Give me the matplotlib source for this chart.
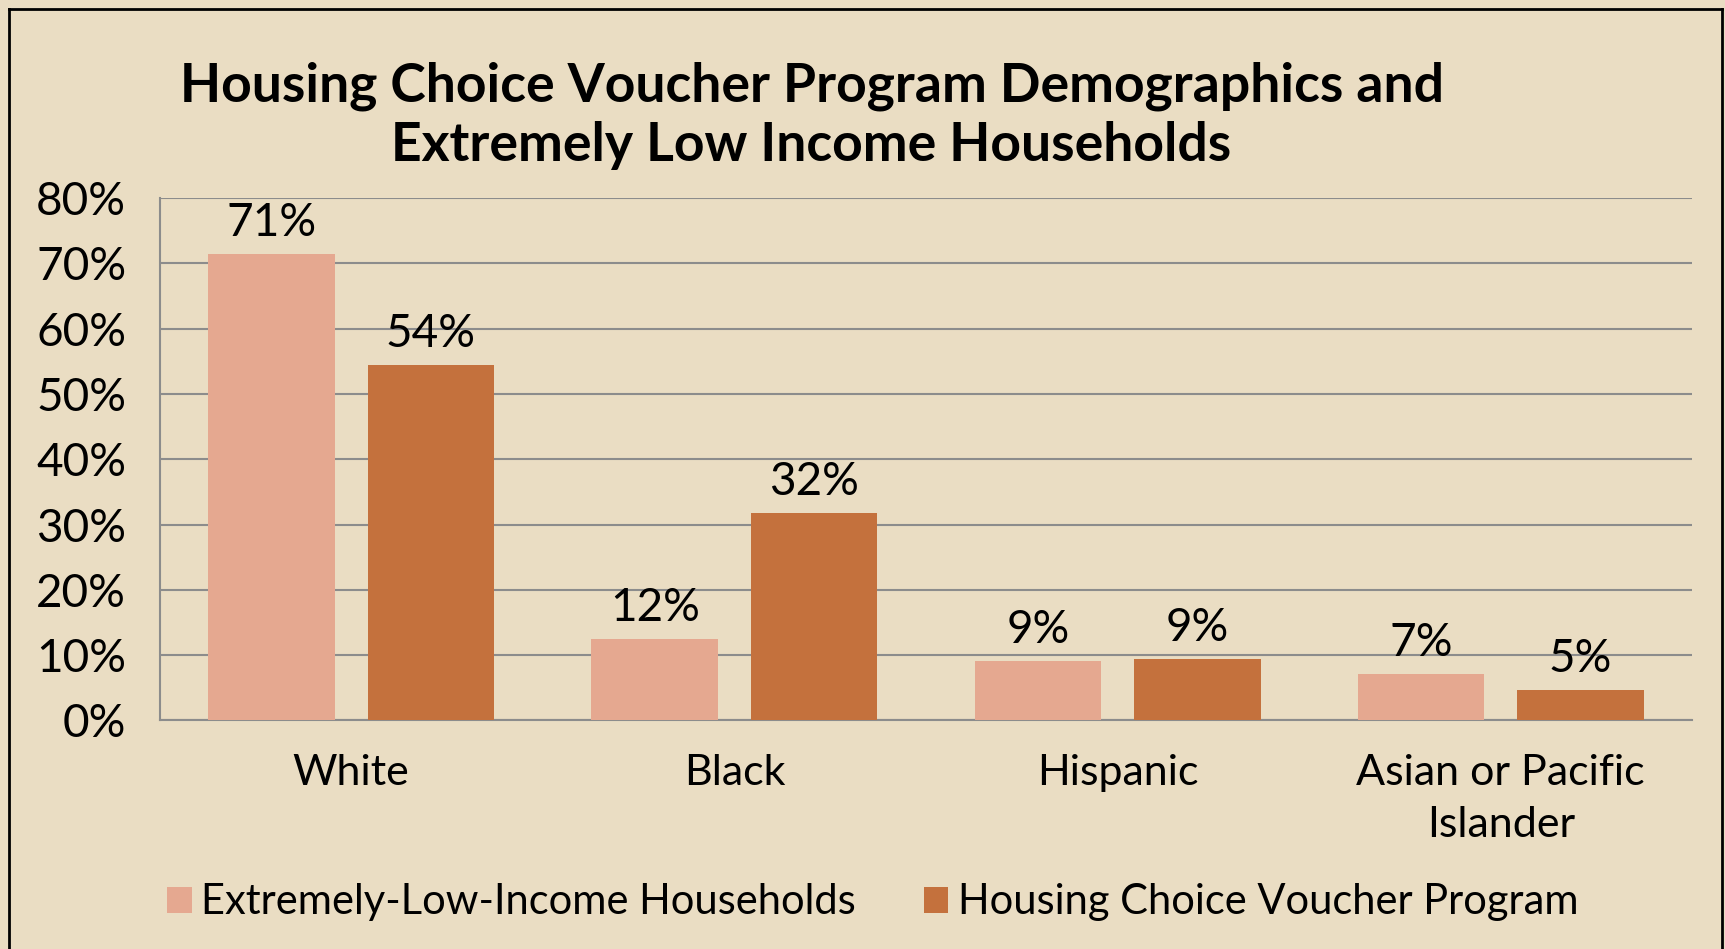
import matplotlib.pyplot as plt
import numpy as np
from matplotlib.lines import Line2D

# Dados do gráfico
categorias = ['White', 'Black', 'Hispanic', 'Asian or Pacific\nIslander']
eli_households = [71.4, 12.5, 9.1, 7.1]
hcv_program = [54.4, 31.8, 9.4, 4.7]
rotulos_eli = ['71%', '12%', '9%', '7%']
rotulos_hcv = ['54%', '32%', '9%', '5%']
serie_nomes = ['Extremely-Low-Income Households', 'Housing Choice Voucher Program']
y_ticks = [0, 10, 20, 30, 40, 50, 60, 70, 80]

fundo = '#EADDC3'
cor_clara = '#E5A890'
cor_escura = '#C4713D'
cor_grade = '#8C8C8C'

plt.rcParams['font.family'] = ['Lato', 'DejaVu Sans']

fig = plt.figure(figsize=(17.25, 9.49), dpi=100, facecolor=fundo)
ax = fig.add_axes([0.0925, 0.2408, 0.8886, 0.5506])
ax.set_facecolor(fundo)

x = np.arange(len(categorias))
largura = 0.33
desloc = 0.208
b1 = ax.bar(x - desloc, eli_households, largura, color=cor_clara, label=serie_nomes[0], zorder=3)
b2 = ax.bar(x + desloc, hcv_program, largura, color=cor_escura, label=serie_nomes[1], zorder=3)

# Rótulos das barras
for rect, txt in zip(b1, rotulos_eli):
    ax.annotate(txt, (rect.get_x() + rect.get_width() / 2, rect.get_height()),
                xytext=(0, 7), textcoords='offset points', ha='center', va='bottom', fontsize=33)
for rect, txt in zip(b2, rotulos_hcv):
    ax.annotate(txt, (rect.get_x() + rect.get_width() / 2, rect.get_height()),
                xytext=(0, 7), textcoords='offset points', ha='center', va='bottom', fontsize=33)

# Eixos e grade
ax.set_xlim(-0.5, len(categorias) - 0.5)
ax.set_ylim(0, 80)
ax.set_yticks(y_ticks)
ax.set_yticklabels([f'{v}%' for v in y_ticks], fontsize=33)
ax.set_xticks(x)
ax.set_xticklabels(categorias, fontsize=31, linespacing=1.45)
ax.tick_params(length=0)
ax.tick_params(axis='y', pad=24)
ax.tick_params(axis='x', pad=24)
ax.yaxis.grid(True, color=cor_grade, linewidth=1.5, zorder=0)
for s in ['top', 'right']:
    ax.spines[s].set_visible(False)
for s in ['left', 'bottom']:
    ax.spines[s].set_color(cor_grade)
    ax.spines[s].set_linewidth(1.5)

# Título
fig.text(0.4705, 0.878, 'Housing Choice Voucher Program Demographics and\nExtremely Low Income Households',
         ha='center', va='center', fontsize=38.5, fontweight='bold', linespacing=1.25)

# Legenda
fig.legend(loc='center', bbox_to_anchor=(0.506, 0.049), ncol=2, frameon=False, fontsize=30,
           handlelength=0.58, handleheight=0.58, handletextpad=0.22, columnspacing=1.65)

# Moldura
for xs, ys in [([0.0052, 0.0052], [0, 0.9905]), ([0.0052, 0.998], [0.9905, 0.9905]), ([0.998, 0.998], [0, 0.9905])]:
    fig.add_artist(Line2D(xs, ys, color='black', linewidth=2, transform=fig.transFigure))

fig.savefig('out.png', dpi=100, facecolor=fundo)
